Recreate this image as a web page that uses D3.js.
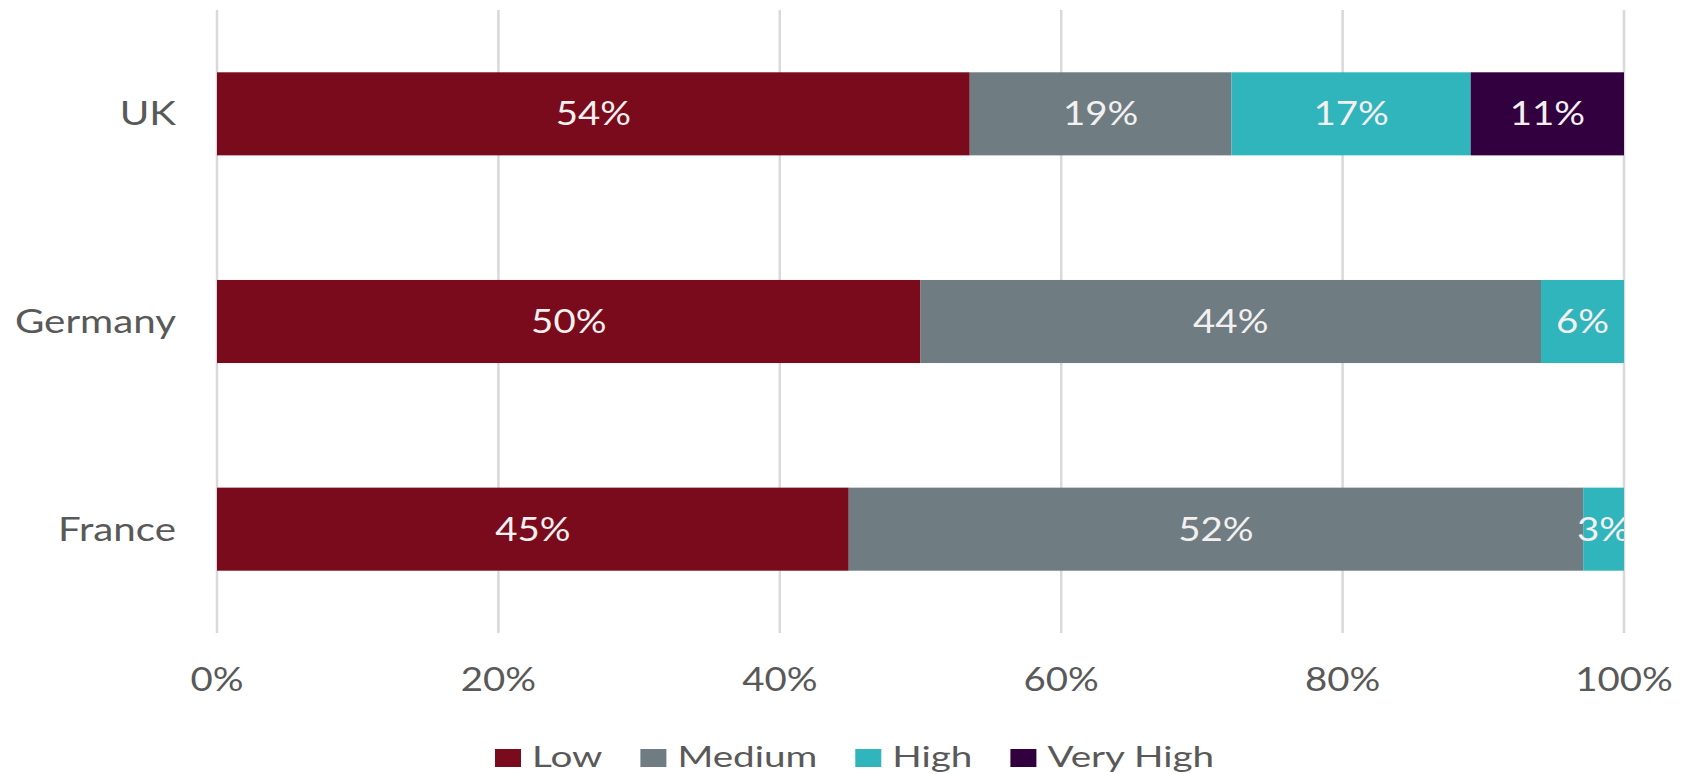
<!DOCTYPE html>
<html>
<head>
<meta charset="utf-8">
<script src="https://cdn.jsdelivr.net/npm/d3@7"></script>
<style>
  body { margin: 0; background: #fff; }
  text { font-family: Lato, "Open Sans", sans-serif; }
</style>
</head>
<body>
<svg id="chart"></svg>
<script>
const countries = ["UK", "Germany", "France"];
const levels = ["Low", "Medium", "High", "Very High"];
const low = [53.5, 50.0, 44.9];
const medium = [18.6, 44.1, 52.2];
const high = [17.0, 5.9, 2.9];
const veryHigh = [10.9, 0, 0];
const ticks = [0, 20, 40, 60, 80, 100];
const colors = ["#7a0b1c", "#6f7d83", "#31b5bd", "#33003f"];

const width = 1682;
const height = 774;
const margin = { top: 10, right: 58, bottom: 141, left: 217 };

let rows = countries.map((c, i) => ({
    country: c,
    "Low": low[i],
    "Medium": medium[i],
    "High": high[i],
    "Very High": veryHigh[i]
}));

let stacked = d3.stack().keys(levels)(rows);

let x = d3.scaleLinear().domain([0, 100]).range([margin.left, width - margin.right]);
let y = d3.scaleBand().domain(countries)
    .range([margin.top, height - margin.bottom])
    .paddingInner(0.6).paddingOuter(0.3);
let color = d3.scaleOrdinal(levels, colors);

let svg = d3.select("#chart").attr("width", width).attr("height", height);

svg.append("defs").append("clipPath").attr("id", "plot")
    .append("rect")
    .attr("x", x(0)).attr("y", 0)
    .attr("width", x(100) - x(0)).attr("height", height);

// gridlines
svg.append("g").selectAll("line")
    .data(ticks)
    .join("line")
        .attr("x1", d => x(d)).attr("x2", d => x(d))
        .attr("y1", margin.top).attr("y2", height - margin.bottom)
        .attr("stroke", "#d9d9d9")
        .attr("stroke-width", 2.5);

// bars
let series = svg.append("g").selectAll("g")
    .data(stacked)
    .join("g")
        .attr("fill", d => color(d.key));

series.selectAll("rect")
    .data(d => d)
    .join("rect")
        .attr("x", d => x(d[0]))
        .attr("y", d => y(d.data.country))
        .attr("width", d => x(d[1]) - x(d[0]))
        .attr("height", y.bandwidth());

// data labels
let labels = svg.append("g").attr("clip-path", "url(#plot)");
stacked.forEach(s => {
    labels.selectAll(null)
        .data(s.filter(d => d[1] - d[0] > 0))
        .join("text")
            .attr("transform", d => "translate(" + x((d[0] + d[1]) / 2) + "," + (y(d.data.country) + y.bandwidth() / 2) + ") scale(1.2,1)")
            .attr("text-anchor", "middle")
            .attr("dy", "0.36em")
            .attr("fill", "#f4f0f0")
            .style("font-size", "32px")
            .text(d => Math.round(d[1] - d[0]) + "%");
});

// category labels
svg.append("g").selectAll("text")
    .data(countries)
    .join("text")
        .attr("transform", d => "translate(176," + (y(d) + y.bandwidth() / 2) + ") scale(1.26,1)")
        .attr("text-anchor", "end")
        .attr("dy", "0.36em")
        .attr("fill", "#595959")
        .style("font-size", "32px")
        .text(d => d);

// x tick labels
svg.append("g").selectAll("text")
    .data(ticks)
    .join("text")
        .attr("transform", d => "translate(" + x(d) + ",691) scale(1.2,1)")
        .attr("text-anchor", "middle")
        .attr("fill", "#595959")
        .style("font-size", "32px")
        .text(d => d + "%");

// legend
let legend = svg.append("g");
let lx = 495;
levels.forEach(k => {
    legend.append("rect")
        .attr("x", lx).attr("y", 749)
        .attr("width", 26).attr("height", 18)
        .attr("fill", color(k));
    let t = legend.append("text")
        .attr("transform", "translate(" + (lx + 37) + ",767) scale(1.38,1)")
        .attr("fill", "#595959")
        .style("font-size", "28px")
        .text(k);
    lx += 37 + t.node().getComputedTextLength() * 1.38 + 38;
});
</script>
</body>
</html>
